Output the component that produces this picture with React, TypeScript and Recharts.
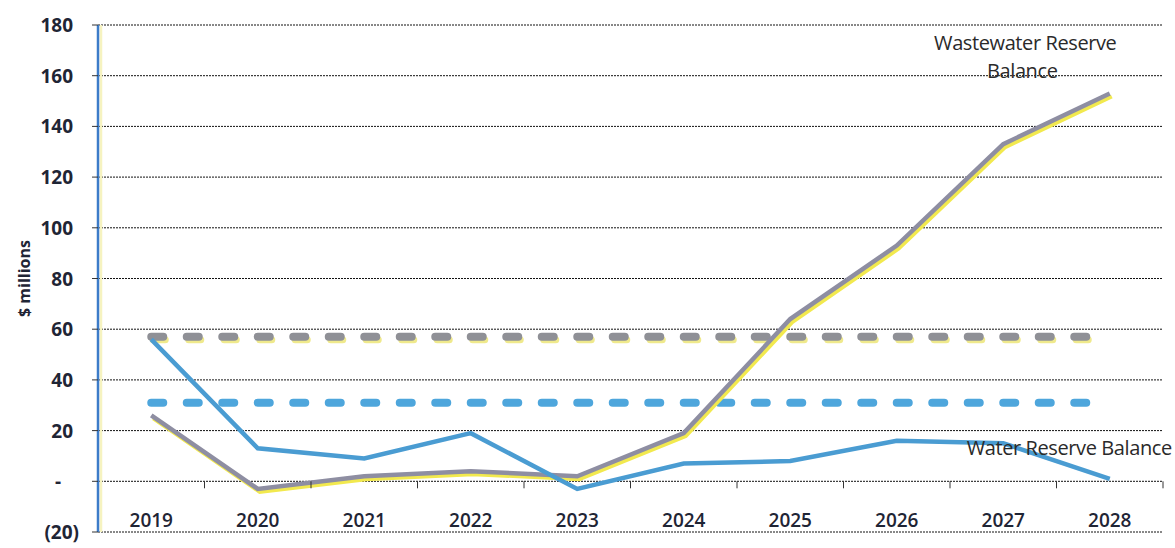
import React from 'react'
import { LineChart, Line, XAxis, YAxis, CartesianGrid, ReferenceDot } from 'recharts'

// reserve balances, $ millions
const years = ['2019', '2020', '2021', '2022', '2023', '2024', '2025', '2026', '2027', '2028']
const waterReserve = [56, 13, 9, 19, -3, 7, 8, 16, 15, 1]
const wastewaterReserve = [26, -3, 2, 4, 2, 19, 64, 93, 133, 153]
// minimum reserve targets (dashed)
const wastewaterTarget = [57, 57, 57, 57, 57, 57, 57, 57, 57, 57]
const waterTarget = [31, 31, 31, 31, 31, 31, 31, 31, 31, 31]
const yTicks = [-20, 0, 20, 40, 60, 80, 100, 120, 140, 160, 180]

const W = 1175
const H = 548
const MARGIN = { top: 25, right: 12, bottom: 0, left: 0 }
const Y_AXIS_W = 98
const X_AXIS_H = 16
const PLOT_W = W - MARGIN.left - MARGIN.right - Y_AXIS_W
const PLOT_H = H - MARGIN.top - MARGIN.bottom - X_AXIS_H
const Y_MIN = -20
const Y_MAX = 180
const BAND = PLOT_W / years.length

const FONT = "'Open Sans', 'Liberation Sans', sans-serif"
const NARROW = "'Liberation Sans Narrow', 'Open Sans', sans-serif"
const INK = '#1f2535'

const data = years.map((year, i) => ({
  year,
  water: waterReserve[i],
  wastewater: wastewaterReserve[i],
  wwTarget: wastewaterTarget[i],
  wTarget: waterTarget[i]
}))

// year labels sit just above the bottom edge; boundary tick marks hang off the zero line
const YearTick = ({ x, y, payload }: any) => {
  const zeroY = y - ((0 - Y_MIN) / (Y_MAX - Y_MIN)) * PLOT_H
  return (
    <g>
      <line x1={x + BAND / 2} x2={x + BAND / 2} y1={zeroY} y2={zeroY + 7} stroke="#333" strokeWidth={1} />
      <text x={x} y={y - 5} textAnchor="middle" fontFamily={NARROW} fontSize={19} fontWeight={600} fill={INK}>
        {payload.value}
      </text>
    </g>
  )
}

// accounting style: zero as a dash, negatives in brackets
const ValueTick = ({ x, y, payload }: any) => {
  const v = payload.value
  let label = String(v)
  let tx = x - 17
  let anchor = 'end'
  if (v === 0) {
    label = '-'
    tx = x - 32
    anchor = 'middle'
  } else if (v < 0) {
    label = `(${-v})`
    tx = x - 11
  }
  return (
    <text x={tx} y={y} dy={7} textAnchor={anchor} fontFamily={NARROW} fontSize={19} fontWeight={700} fill={INK}>
      {label}
    </text>
  )
}

const YTitle = ({ viewBox }: any) => {
  const cx = 24
  const cy = viewBox.y + viewBox.height / 2
  return (
    <text x={cx} y={cy} transform={`rotate(-90 ${cx} ${cy})`} textAnchor="middle" dominantBaseline="central"
      fontFamily={FONT} fontSize={16} fontWeight={700} fill={INK}>
      $ millions
    </text>
  )
}

const note = (text: string, dx: number) => ({ viewBox }: any) => {
  const cx = viewBox.x + viewBox.width / 2 + dx
  const cy = viewBox.y + viewBox.height / 2
  return (
    <text x={cx} y={cy} textAnchor="middle" dominantBaseline="central" fontFamily={FONT} fontSize={20} fill="#2a2a2a" letterSpacing={-0.4}>
      {text}
    </text>
  )
}

export default function App() {
  return (
    <div style={{ width: W, height: H, background: '#fff' }}>
      <style>{`
        body { margin: 0; }
        .ww-shadow { transform: translate(2px, 3px); }
        .recharts-yAxis .recharts-cartesian-axis-line { filter: drop-shadow(3px 0 0 #f6f3c0); }
      `}</style>
      <LineChart width={W} height={H} data={data} margin={MARGIN}>
        <CartesianGrid vertical={false} stroke="#111" strokeDasharray="2 1" strokeWidth={1} />
        <XAxis
          dataKey="year"
          scale="band"
          height={X_AXIS_H}
          axisLine={false}
          tickLine={false}
          tickSize={0}
          tickMargin={0}
          interval={0}
          tick={<YearTick />}
        />
        <YAxis
          width={Y_AXIS_W}
          domain={[Y_MIN, Y_MAX]}
          ticks={yTicks}
          interval={0}
          axisLine={{ stroke: '#3d7cc9', strokeWidth: 2.5 }}
          tickLine={{ stroke: '#333' }}
          tickSize={6}
          tick={<ValueTick />}
          label={YTitle}
        />

        <Line dataKey="wwTarget" className="ww-shadow" stroke="#efe98c" strokeWidth={7} strokeDasharray="12 23.5" strokeLinecap="round" dot={false} isAnimationActive={false} />
        <Line dataKey="wwTarget" stroke="#8f9096" strokeWidth={8} strokeDasharray="12 23.5" strokeLinecap="round" dot={false} isAnimationActive={false} />
        <Line dataKey="wTarget" stroke="#4ea6dc" strokeWidth={8} strokeDasharray="12 23.5" strokeLinecap="round" dot={false} isAnimationActive={false} />

        <Line dataKey="wastewater" className="ww-shadow" stroke="#f2e94e" strokeWidth={4} dot={false} isAnimationActive={false} />
        <Line dataKey="wastewater" stroke="#8e8ea2" strokeWidth={4.5} dot={false} isAnimationActive={false} />
        <Line dataKey="water" stroke="#4a9cd2" strokeWidth={4.5} dot={false} isAnimationActive={false} />

        <ReferenceDot x="2027" y={173} r={1} fill="none" stroke="none" label={note('Wastewater Reserve', 22)} />
        <ReferenceDot x="2027" y={162} r={1} fill="none" stroke="none" label={note('Balance', 19)} />
        <ReferenceDot x="2027" y={13.5} r={1} fill="none" stroke="none" label={note('Water Reserve Balance', 66)} />
      </LineChart>
    </div>
  )
}
